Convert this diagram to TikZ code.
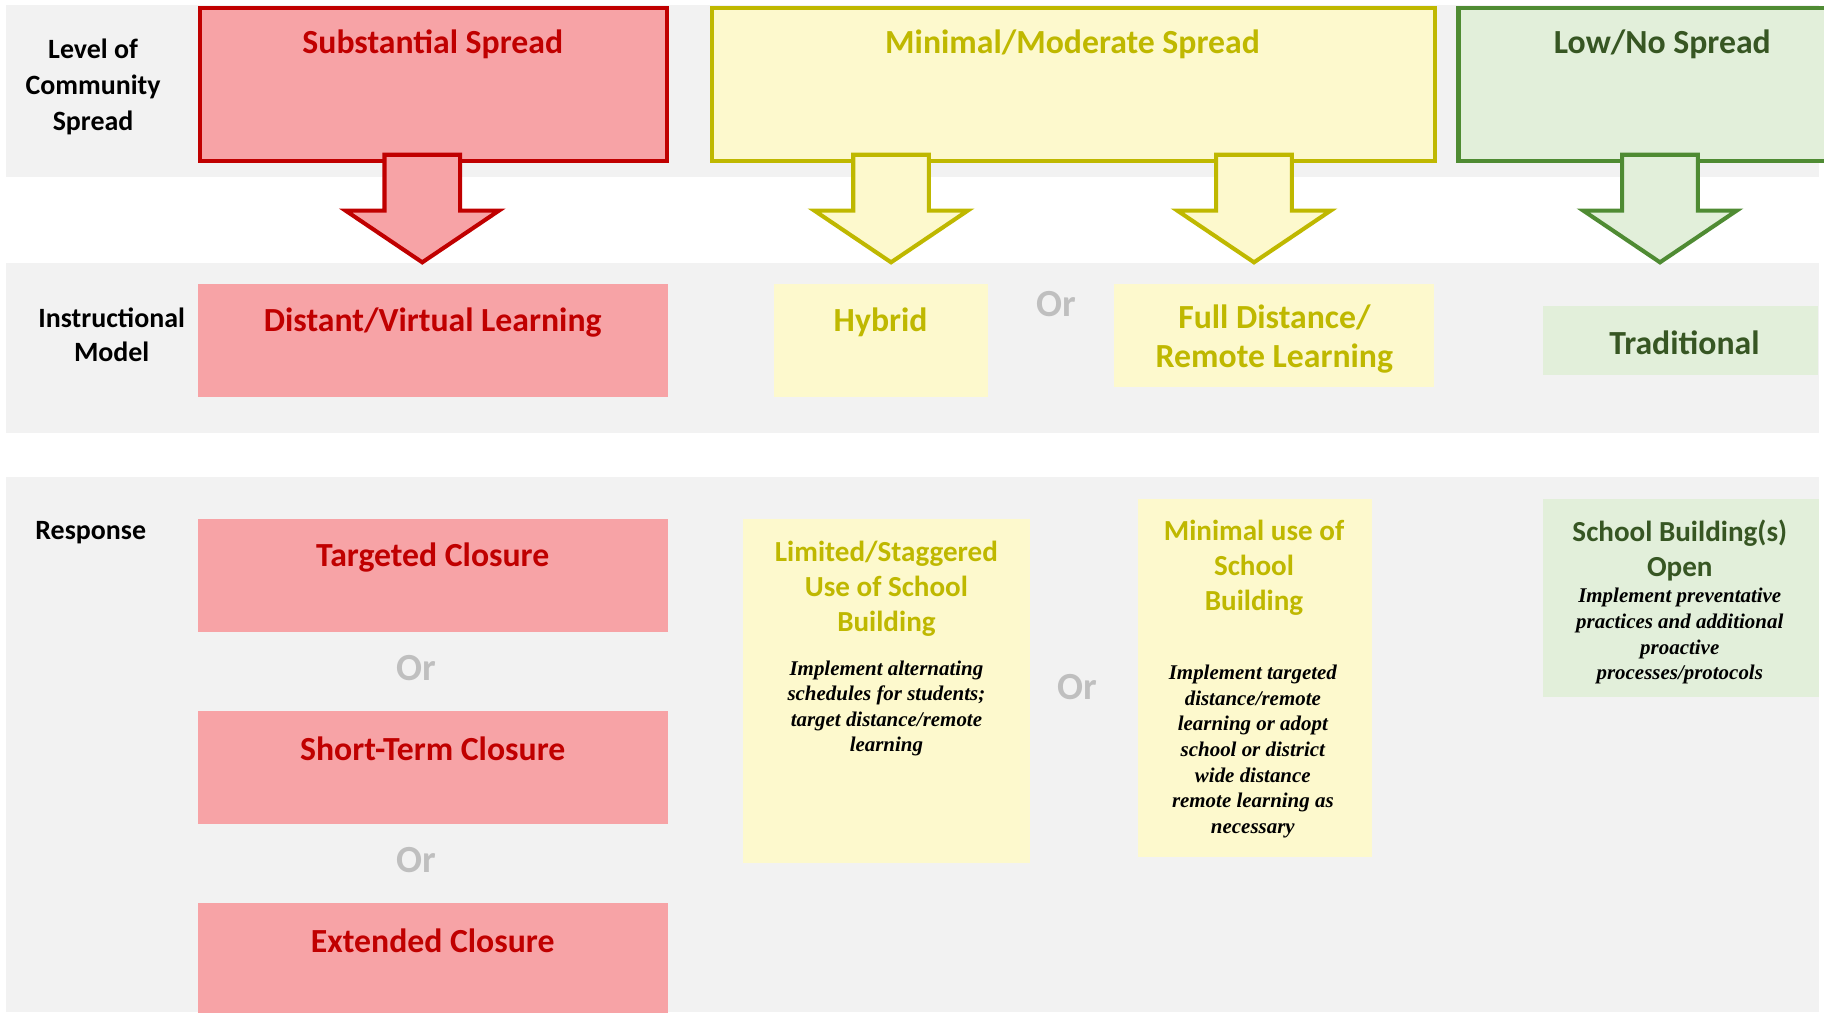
\documentclass[tikz,border=0pt]{standalone}
\usepackage{fontspec}
\setmainfont{Carlito}
\newfontfamily\bodyserif{Liberation Serif}
\definecolor{bandgray}{HTML}{F2F2F2}
\definecolor{redc}{HTML}{C00000}
\definecolor{redf}{HTML}{F7A3A6}
\definecolor{yelc}{HTML}{BFB800}
\definecolor{yelf}{HTML}{FDF9CD}
\definecolor{grnc}{HTML}{4F8B33}
\definecolor{grnf}{HTML}{E2EFDA}
\definecolor{grnt}{HTML}{375623}
\definecolor{orgray}{HTML}{BFBFBF}
\tikzset{
  band/.style={fill=bandgray},
  topbox/.style={line width=3.5pt, line join=miter},
  blockarrow/.style={line width=3.5pt, line join=miter, miter limit=10},
  plainbox/.style={inner sep=0pt, outer sep=0pt},
  head/.style={inner sep=0pt, yshift=-2pt, align=center, font=\bfseries\fontsize{29}{33}\selectfont},
  sub/.style={inner sep=0pt, yshift=-2pt, align=center, font=\bfseries\fontsize{25}{30}\selectfont},
  lbl/.style={inner sep=0pt, yshift=-1.5pt, align=center, font=\bfseries\fontsize{24}{31}\selectfont},
  body/.style={inner sep=0pt, yshift=-2pt, align=center, font=\bodyserif\bfseries\itshape\fontsize{18}{22}\selectfont},
  ortext/.style={inner sep=0pt, yshift=-1pt, text=orgray, font=\bfseries\fontsize{33}{36}\selectfont},
}
\newcommand{\mydownarrow}[3]{%
  \filldraw[blockarrow, draw=#2, fill=#3]
    (#1-32.5,133) -- (#1+32.5,133) -- (#1+32.5,181) -- (#1+66,181)
    -- (#1,225.5) -- (#1-66,181) -- (#1-32.5,181) -- cycle;}
\begin{document}
\begin{tikzpicture}[x=1pt,y=-1pt]
\useasboundingbox (0,0) rectangle (1568,870);
\clip (0,0) rectangle (1568,870);
% background bands
\fill[band] (5,4) rectangle (1564,152);
\fill[band] (5,226) rectangle (1564,372);
\fill[band] (5,410) rectangle (1564,870);

% row labels
\node[lbl] (lvl) at (80,73) {Level of\\Community\\Spread};
\node[lbl, font=\bfseries\fontsize{24}{29}\selectfont] (instr) at (96,286.5) {Instructional\\Model};
\node[lbl] (resp) at (78,456) {Response};

% top boxes
\draw[topbox, draw=redc, fill=redf] (171.75,6.75) rectangle (573.25,138.25);
\node[head, text=redc] (subt) at (372,36) {Substantial Spread};
\draw[topbox, draw=yelc, fill=yelf] (611.75,6.75) rectangle (1233.25,138.25);
\node[head, text=yelc] (modt) at (922,36) {Minimal/Moderate Spread};
\draw[topbox, draw=grnc, fill=grnf] (1253.75,6.75) rectangle (1600,138.25);
\node[head, text=grnt] (lowt) at (1429,36) {Low/No Spread};

% block arrows
\mydownarrow{363}{redc}{redf}
\mydownarrow{766}{yelc}{yelf}
\mydownarrow{1078}{yelc}{yelf}
\mydownarrow{1427}{grnc}{grnf}

% instructional model
\node[plainbox, fill=redf, minimum width=404pt, minimum height=97pt] (dvlbox) at (372,292.5) {};
\node[head, text=redc] (dvl) at (372,275) {Distant/Virtual Learning};
\node[plainbox, fill=yelf, minimum width=184pt, minimum height=97pt] (hybbox) at (757,292.5) {};
\node[head, text=yelc] (hyb) at (757,275) {Hybrid};
\node[ortext] (or1) at (908,260) {Or};
\node[plainbox, fill=yelf, minimum width=275pt, minimum height=89pt] (fdbox) at (1095.5,288.5) {};
\node[head, text=yelc] (fd) at (1095.5,289.5) {Full Distance/\\Remote Learning};
\node[plainbox, fill=grnf, minimum width=237pt, minimum height=59pt] (tradbox) at (1444.5,292.5) {};
\node[head, text=grnt] (trad) at (1448,293) {Traditional};

% response: substantial
\node[plainbox, fill=redf, minimum width=404pt, minimum height=97pt] (tcbox) at (372,494.5) {};
\node[head, text=redc] (tc) at (372,477) {Targeted Closure};
\node[ortext] (or2) at (358,573) {Or};
\node[plainbox, fill=redf, minimum width=404pt, minimum height=97pt] (stbox) at (372,659.5) {};
\node[head, text=redc] (st) at (372,642) {Short-Term Closure};
\node[ortext] (or3) at (358,738) {Or};
\node[plainbox, fill=redf, minimum width=404pt, minimum height=110pt] (ecbox) at (372,831) {};
\node[head, text=redc] (ec) at (372,807) {Extended Closure};

% response: minimal/moderate
\node[plainbox, fill=yelf, minimum width=246pt, minimum height=296pt] (lsbox) at (762,594) {};
\node[sub, text=yelc] (lst) at (762,504) {Limited/Staggered\\Use of School\\Building};
\node[body] (lsb) at (762,607) {Implement alternating\\schedules for students;\\target distance/remote\\learning};
\node[ortext] (or4) at (926,590) {Or};
\node[plainbox, fill=yelf, minimum width=201pt, minimum height=308pt] (mubox) at (1078.5,583) {};
\node[sub, text=yelc] (mut) at (1078,486) {Minimal use of\\School\\Building};
\node[body] (mub) at (1077,644) {Implement targeted\\distance/remote\\learning or adopt\\school or district\\wide distance\\remote learning as\\necessary};

% response: low/no
\node[plainbox, fill=grnf, minimum width=238pt, minimum height=170pt] (sobox) at (1445,514) {};
\node[sub, text=grnt] (sot) at (1444,471) {School Building(s)\\Open};
\node[body] (sob) at (1444,545) {Implement preventative\\practices and additional\\proactive\\processes/protocols};
\end{tikzpicture}
\end{document}
